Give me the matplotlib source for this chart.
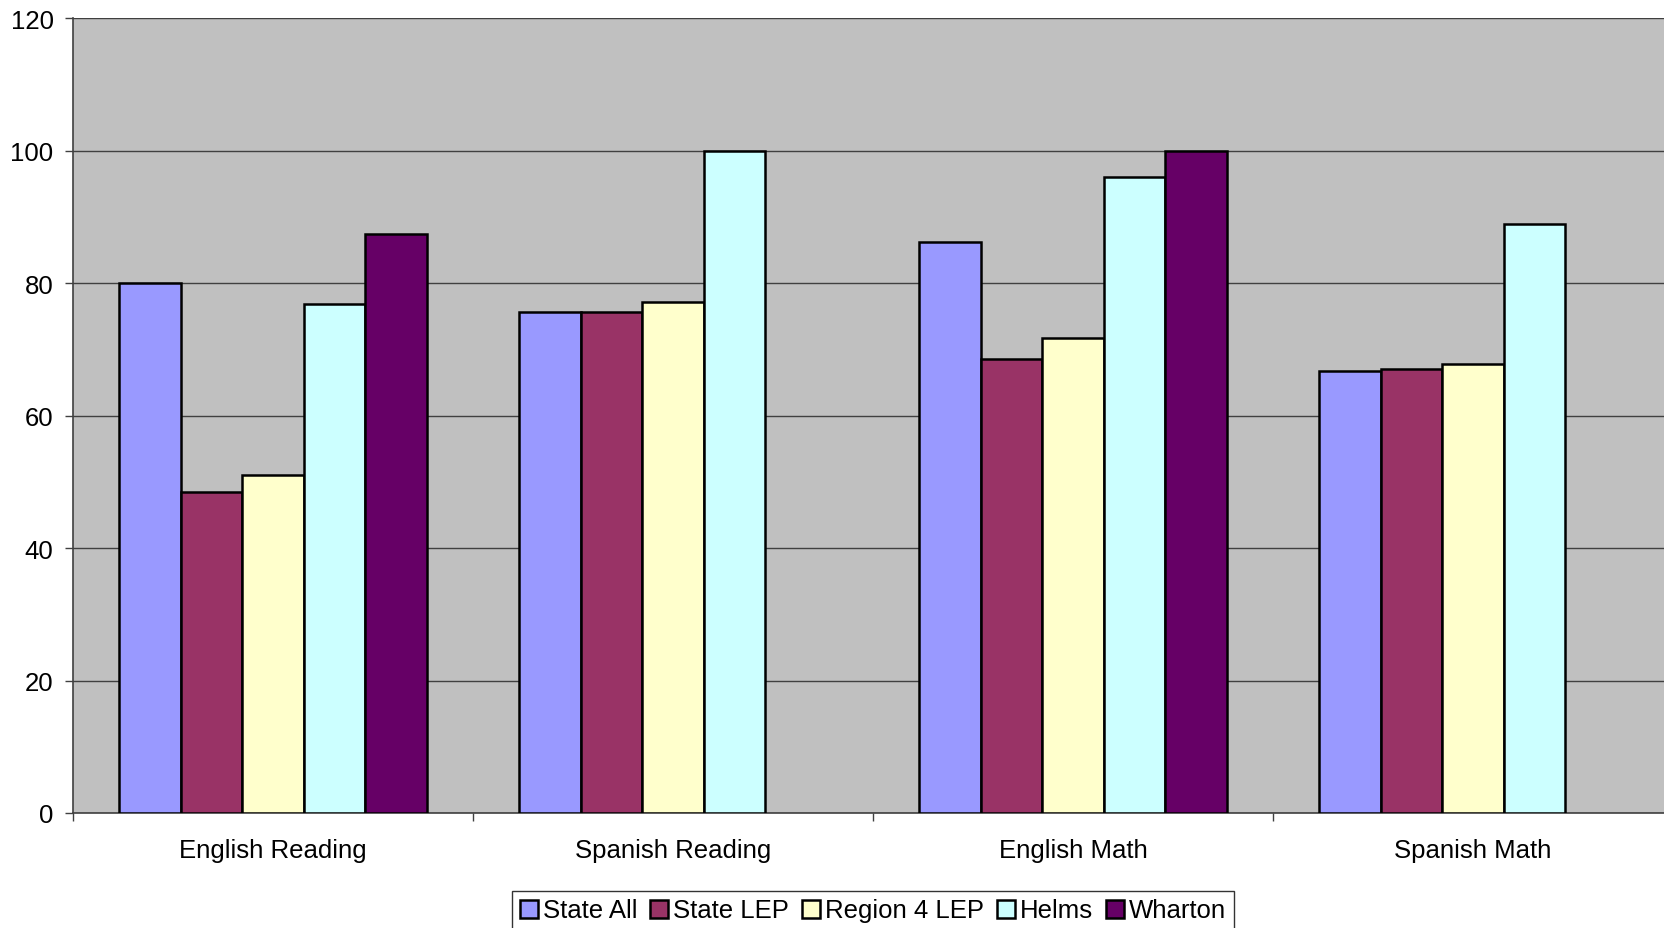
import matplotlib
matplotlib.use("Agg")
import matplotlib.pyplot as plt
from matplotlib.patches import Patch
import numpy as np

plt.rcParams['font.family'] = ['Liberation Sans', 'DejaVu Sans']

categories = ["English Reading", "Spanish Reading", "English Math", "Spanish Math"]
series_names = ["State All", "State LEP", "Region 4 LEP", "Helms", "Wharton"]
state_all = [80.0, 75.7, 86.2, 66.8]
state_lep = [48.4, 75.6, 68.5, 67.0]
region4_lep = [51.0, 77.1, 71.7, 67.8]
helms = [76.8, 100.0, 96.1, 88.9]
wharton = [87.5, None, 100.0, None]
colors = ["#9999FF", "#993366", "#FFFFCC", "#CCFFFF", "#660066"]
y_ticks = [0, 20, 40, 60, 80, 100, 120]

series = [state_all, state_lep, region4_lep, helms, wharton]
FS = 18.5

fig = plt.figure(figsize=(16.64, 9.29), dpi=100)
ax = fig.add_axes([73 / 1664, 1 - 814 / 929, 1600 / 1664, (814 - 19.3) / 929])
ax.set_facecolor("#C0C0C0")

n = len(series)
w = 1.0 / (n + 1.5)
x = np.arange(len(categories))
for i, (vals, col) in enumerate(zip(series, colors)):
    for xi, v in zip(x, vals):
        if v is None:
            continue
        ax.bar(xi + (i - (n - 1) / 2) * w, v, width=w, color=col,
               edgecolor="black", linewidth=1.8, zorder=3)

ax.set_ylim(0, 120)
ax.set_xlim(-0.5, len(categories) - 0.5)
ax.set_yticks(y_ticks)
ax.set_yticklabels([str(t) for t in y_ticks], fontsize=FS)
ax.yaxis.grid(True, color="#404040", linewidth=1.0, zorder=1)
ax.set_axisbelow(True)

ax.set_xticks(x)
ax.set_xticklabels(categories, fontsize=FS)
ax.tick_params(axis="x", which="major", length=0, pad=18)
ax.set_xticks(np.arange(len(categories) + 1) - 0.5, minor=True)
ax.tick_params(axis="x", which="minor", length=6, width=1, color="#404040", direction="out")
ax.tick_params(axis="y", length=6, width=1, color="#404040", direction="out", pad=8)

for side in ["top", "right"]:
    ax.spines[side].set_visible(False)
ax.spines["left"].set_color("#404040")
ax.spines["bottom"].set_color("#404040")
ax.spines["left"].set_linewidth(1.2)
ax.spines["bottom"].set_linewidth(1.2)

handles = [Patch(facecolor=c, edgecolor="black", linewidth=1.8) for c in colors]
leg = fig.legend(handles, series_names, loc="center", ncol=5,
                 bbox_to_anchor=(873 / 1664, 1 - 911.5 / 929),
                 fontsize=FS, frameon=True, fancybox=False,
                 handlelength=0.7, handleheight=0.7, handletextpad=0.2,
                 columnspacing=0.5, borderpad=0.3, borderaxespad=0)
leg.get_frame().set_edgecolor("black")
leg.get_frame().set_linewidth(1.0)

fig.savefig("out.png", dpi=100)
